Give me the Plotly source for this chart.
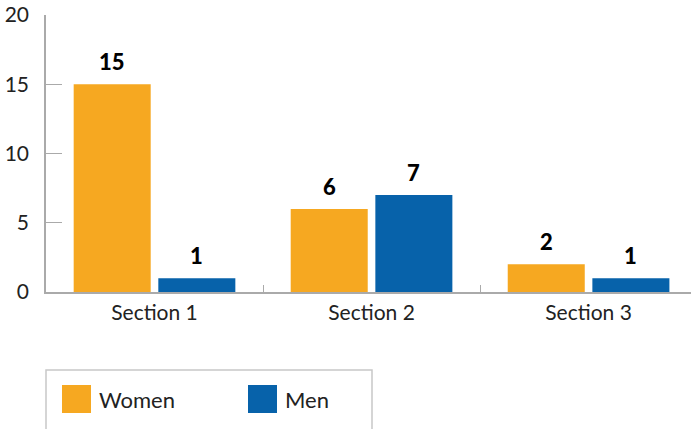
import plotly.graph_objects as go

categories = ["Section 1", "Section 2", "Section 3"]
women = [15, 6, 2]
men = [1, 7, 1]
series_names = ["Women", "Men"]
series_colors = ["#F6A821", "#0762AA"]
y_ticks = [0, 5, 10, 15, 20]

FONT = "Lato"
PLOT_W = 645  # plot area width in px
X_RANGE = [-0.5, 2.472]
BARGAP = 0.22

fig = go.Figure()
for name, vals, color in zip(series_names, [women, men], series_colors):
    fig.add_trace(go.Bar(
        x=categories, y=vals, name=name,
        marker=dict(color=color, line=dict(width=0)),
        showlegend=False,
    ))

# Value labels above each bar, shifted to the centre of its group slot
cat_px = PLOT_W / (X_RANGE[1] - X_RANGE[0])
slot_px = cat_px * (1 - BARGAP) / len(series_names)
annotations = []
for i, vals in enumerate([women, men]):
    shift = (i - (len(series_names) - 1) / 2) * slot_px
    for c, v in zip(categories, vals):
        annotations.append(dict(
            x=c, y=v, xref="x", yref="y", xshift=shift, yshift=7,
            xanchor="center", yanchor="bottom", showarrow=False, text=str(v),
            font=dict(family=FONT, size=22, color="#000000", weight=900),
        ))

# Legend box drawn as shapes so the swatches can be large squares
shapes = [dict(type="rect", xref="paper", yref="paper",
               x0=0, x1=326 / 645, y0=-78 / 277, y1=-150 / 277,
               line=dict(color="#C8C8C8", width=1.5), fillcolor="rgba(0,0,0,0)")]
legend_x = [16, 202]
for i, (name, color) in enumerate(zip(series_names, series_colors)):
    x0 = legend_x[i] / 645
    shapes.append(dict(type="rect", xref="paper", yref="paper",
                       x0=x0, x1=x0 + 29 / 645,
                       y0=-(385 - 292) / 277, y1=-(413 - 292) / 277,
                       line=dict(width=0), fillcolor=color))
    annotations.append(dict(xref="paper", yref="paper",
                            x=x0 + 35 / 645, y=-(399 - 292) / 277,
                            xanchor="left", yanchor="middle", showarrow=False,
                            text=name, font=dict(family=FONT, size=22, color="#222222")))

fig.update_layout(
    width=691, height=429,
    margin=dict(l=46, r=0, t=15, b=137),
    paper_bgcolor="white", plot_bgcolor="white",
    barmode="group", bargap=BARGAP, bargroupgap=0.09,
    font=dict(family=FONT, color="#222222"),
    shapes=shapes, annotations=annotations,
    showlegend=False,
)
fig.update_xaxes(
    range=X_RANGE, showline=True, linecolor="#AAAAAA", linewidth=1.5,
    ticks="inside", tickson="boundaries", ticklen=7, tickcolor="#AAAAAA",
    tickwidth=1, tickfont=dict(family=FONT, size=21, color="#222222"),
    ticklabelstandoff=1, showgrid=False, fixedrange=True,
)
fig.update_yaxes(
    range=[0, 20], tickvals=y_ticks, showline=True, linecolor="#AAAAAA",
    linewidth=1.5, ticks="inside", ticklen=16, tickcolor="#AAAAAA", tickwidth=1,
    tickfont=dict(family=FONT, size=21, color="#222222"), ticklabelstandoff=11,
    showgrid=False, zeroline=False, fixedrange=True,
)

fig.write_html("out.html")
